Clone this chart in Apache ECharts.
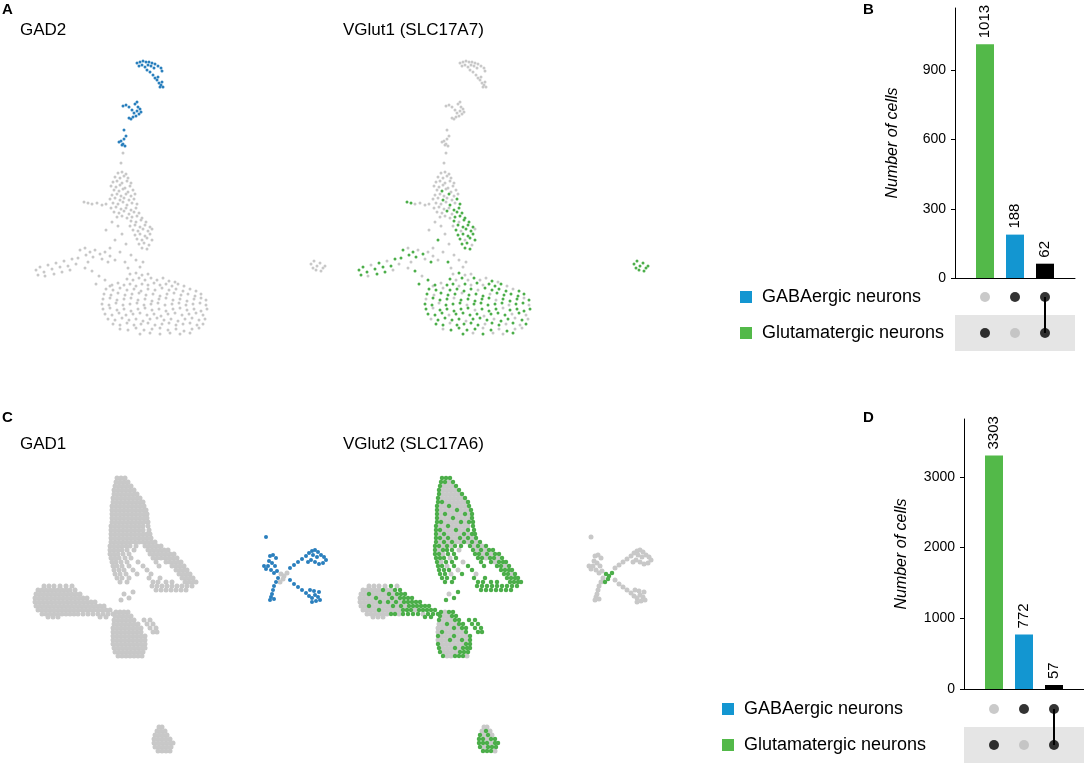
<!DOCTYPE html>
<html>
<head>
<meta charset="utf-8">
<title>GABAergic / glutamatergic markers</title>
<script src="https://cdn.jsdelivr.net/npm/echarts@6/dist/echarts.min.js"></script>
<style>
  html, body { margin: 0; padding: 0; background: #fff; }
  #chart { width: 1084px; height: 768px; }
</style>
</head>
<body>
<div id="chart"></div>
<script>
// embedding coordinates (UMAP units, y grows downward)
// dataset 1: GAD2 / VGlut1
const d1Gad2 = [
  [137,63],[140,62],[143,61],[146,62],[149,62],[152,63],[155,64],[158,66],[161,68],[162,71],
  [139,66],[142,65],[145,67],[148,65],[151,66],[154,68],[147,70],[150,72],[153,75],[155,78],
  [157,80],[159,83],[161,85],[163,87],[160,87],[162,82],[158,77],
  [123,106],[126,105],[129,107],[135,104],[137,102],[138,107],[140,109],[141,112],[139,114],
  [136,116],[133,117],[131,119],[134,113],[137,111],[132,110],[129,118],
  [119,142],[121,141],[123,144],[125,146],[122,145],[124,139],[126,136],[124,130]
]
const d1Vglut1 = [
  [119,191],[126,194],[120,200],[134,199],[127,205],[137,204],[131,210],[136,208],[124,211],[134,212],
  [139,213],[132,217],[137,216],[142,218],
  [131,221],[141,220],[146,222],[135,225],[140,227],[145,225],[150,227],[133,230],[143,229],[148,231],
  [135,235],[140,234],[145,236],[150,234],[137,239],[147,238],[152,240],[139,244],[144,243],[142,248],[147,249],
  [84,202],[88,203],[115,240],[125,262],
  [80,250],[90,252],[100,254],[86,255],[93,257],[108,262],
  [36,270],[40,267],[44,272],[52,269],[56,263],[60,267],[68,266],[72,259],[38,275],[54,274],[62,272],[78,258],
  [92,271],[105,280],[96,284],
  [136,273],[127,279],[139,278],[151,278],[169,281],
  [112,285],[124,285],[130,284],[142,284],[154,283],[166,284],[172,286],[178,284],
  [106,289],[113,290],[127,290],[134,289],[141,291],[148,289],[162,288],[169,290],[176,289],[183,291],[196,291],
  [104,294],[118,293],[125,295],[132,294],[146,295],[153,294],[160,296],[174,293],[181,295],[188,294],[195,296],[201,294],
  [110,298],[117,300],[124,299],[138,300],[145,299],[152,301],[159,299],[166,298],[180,299],[187,301],[194,299],[206,300],
  [102,304],[109,305],[123,305],[130,304],[137,303],[151,304],[158,303],[165,305],[172,304],[179,303],[193,304],[200,303],
  [103,309],[117,310],[124,309],[131,311],[138,309],[145,308],[159,309],[166,311],[173,309],[187,310],[194,309],[201,311],[207,309],
  [105,314],[112,315],[119,313],[133,314],[140,313],[147,315],[154,314],[168,314],[175,313],[182,315],[196,313],
  [115,320],[122,318],[129,320],[136,319],[150,319],[157,318],[164,320],[178,321],[185,319],[199,320],
  [113,324],[120,325],[134,325],[141,324],[148,323],[155,325],[169,323],[176,325],[190,323],[203,324],
  [128,330],[136,328],[144,330],[152,329],[168,330],[184,331],
  [140,334],[160,334],[190,333],
  [311,264],[314,261],[317,266],[320,263],[323,268],[316,270],[321,271],[325,266],[313,268]
]
const d1Other = [
  [118,173],[122,172],[126,174],[115,177],[120,178],[124,176],[128,178],[113,182],[117,181],[122,183],
  [127,181],[131,183],[111,186],[116,187],[120,185],[125,188],[130,186],[114,190],[123,189],[128,192],
  [133,190],[112,195],[117,194],[121,196],[131,196],[135,194],[110,199],[115,198],[124,198],[129,200],
  [113,203],[118,204],[123,202],[132,203],[111,208],[116,207],[121,209],[126,208],[114,212],[119,213],
  [129,214],[117,217],[122,216],[127,218],
  [136,222],[130,226],[138,231],[152,229],[142,240],[149,245],
  [92,204],[97,203],[102,205],[106,204],
  [112,222],[118,226],[106,230],[122,234],[126,244],[110,248],[120,252],[131,255],[136,260],[143,262],[128,268],[140,267],
  [85,248],[95,250],[105,252],[110,256],[102,259],[115,260],
  [48,265],[64,261],[76,264],[45,276],[70,270],
  [85,268],[99,276],[110,286],[88,262],
  [130,274],[142,275],[148,274],[133,280],[145,280],[157,280],[163,278],[175,282],
  [118,283],[136,286],[148,285],[160,285],[184,286],[120,288],[155,290],[190,289],[111,295],[139,293],
  [167,294],[103,299],[131,298],[173,300],[201,298],[116,303],[144,305],[186,305],[206,305],[110,308],
  [152,310],[180,308],[126,315],[161,316],[189,314],[203,315],[108,319],[143,321],[171,319],[192,318],
  [205,319],[127,323],[162,324],[183,324],[197,325],[120,329],[160,328],[176,329],[192,329],[199,328],
  [150,333],[170,333],[180,334],
  [123,153],[121,163]
]

// dataset 2: GAD1 / VGlut2
const d2Gad1 = [
  [266,537],
  [270,556],[273,555],[276,558],[269,561],[272,563],[275,566],[268,566],[271,570],[277,571],[274,573],[264,566],[266,569],
  [290,568],[294,565],[298,562],[302,559],[306,556],[309,553],[312,551],[315,550],[318,552],[321,555],
  [324,557],[326,560],[323,563],[319,564],[315,562],[311,560],[308,562],[313,555],[317,557],
  [290,580],[294,584],[298,587],[302,590],[306,593],[309,596],[312,598],[315,595],[318,597],[320,600],
  [316,601],[312,602],[319,592],[314,591],[310,590],
  [278,578],[276,582],[274,586],[273,590],[272,594],[271,597],[274,599],[270,600]
]
const d2Core = [[281,574],[284,576],[287,573],[283,579],[280,582]]
const d2Vglut2 = [
  [117,478],[121,478],[125,478],[116,482],[120,482],[128,482],[115,486],[131,486],[114,490],[134,490],
  [114,494],[137,494],[113,498],[140,498],[113,502],[117,502],[143,502],[112,506],[124,506],[144,506],
  [112,510],[132,510],[146,510],[112,514],[120,514],[140,514],[147,514],[112,518],[128,518],[147,518],
  [112,522],[116,522],[136,522],[144,522],[148,522],[111,526],[123,526],[148,526],
  [111,530],[115,530],[131,530],[143,530],[149,530],[111,534],[119,534],[139,534],[147,534],[150,534],
  [111,538],[115,538],[123,538],[135,538],[143,538],[151,538],[111,542],[119,542],[127,542],[139,542],[147,542],[155,542],
  [110,546],[114,546],[122,546],[130,546],[136,546],[145,546],[153,546],[161,546],
  [110,550],[118,550],[122,550],[127,550],[148,550],[156,550],[164,550],[168,550],
  [110,554],[114,554],[123,554],[129,554],[150,554],[154,554],[162,554],[170,554],[174,554],
  [111,558],[115,558],[119,558],[131,558],[153,558],[157,558],[165,558],[169,558],[177,558],
  [112,562],[121,562],[127,562],[156,562],[166,562],[174,562],[178,562],[181,562],
  [113,566],[117,566],[129,566],[143,566],[159,566],[172,566],[176,566],[184,566],
  [114,570],[119,570],[124,570],[147,570],[176,570],[180,570],[184,570],[187,570],
  [115,574],[120,574],[137,574],[179,574],[183,574],[190,574],
  [117,578],[122,578],[129,578],[149,578],[160,578],[182,578],[186,578],[190,578],[193,578],
  [120,582],[127,582],[153,582],[158,582],[166,582],[172,582],[185,582],[189,582],[193,582],[196,582],
  [152,586],[157,586],[162,586],[167,586],[172,586],[177,586],[182,586],[187,586],[192,586],
  [156,590],[161,590],[166,590],[171,590],[176,590],[181,590],[186,590],
  [129,598],[121,600],[133,592],
  [66,586],[58,590],[70,590],[75,590],[44,594],[64,594],[72,594],[76,594],[80,594],
  [51,598],[67,598],[75,598],[79,598],[83,598],[87,598],
  [55,602],[63,602],[71,602],[79,602],[83,602],[87,602],[91,602],[95,602],
  [44,606],[68,606],[76,606],[84,606],[88,606],[92,606],[96,606],[100,606],[104,606],
  [54,610],[78,610],[82,610],[86,610],[94,610],[98,610],[102,610],[106,610],[110,610],
  [66,614],[70,614],[78,614],[83,614],[88,614],[93,614],[103,614],[108,614],[113,614],
  [100,617],[106,617],
  [116,612],[124,612],[128,612],[115,616],[127,616],[131,616],
  [114,620],[130,620],[134,620],[144,620],[150,620],[122,624],[134,624],[138,624],[147,624],[153,624],
  [129,628],[137,628],[141,628],[150,628],[156,628],[117,632],[141,632],[153,632],[157,632],
  [113,636],[129,636],[145,636],[125,640],[137,640],[145,640],[113,644],[141,644],[145,644],
  [114,648],[130,648],[138,648],[142,648],[145,648],[115,652],[135,652],[139,652],[143,652],
  [118,656],[130,656],[134,656],[138,656],
  [161,731],[155,735],[163,735],[154,739],[158,739],[166,739],[170,739],[154,743],[158,743],[162,743],
  [170,743],[173,743],[155,747],[163,747],[167,747],[171,747],[158,751],[162,751],[166,751]
]
const d2Other = [
  [124,482],[119,486],[123,486],[127,486],[118,490],[122,490],[126,490],[130,490],
  [118,494],[122,494],[126,494],[130,494],[134,494],[117,498],[121,498],[125,498],[129,498],[133,498],[137,498],
  [121,502],[125,502],[129,502],[133,502],[137,502],[141,502],[116,506],[120,506],[128,506],[132,506],[136,506],[140,506],
  [116,510],[120,510],[124,510],[128,510],[136,510],[140,510],[144,510],
  [116,514],[124,514],[128,514],[132,514],[136,514],[144,514],
  [116,518],[120,518],[124,518],[132,518],[136,518],[140,518],[144,518],
  [120,522],[124,522],[128,522],[132,522],[140,522],
  [115,526],[119,526],[127,526],[131,526],[135,526],[139,526],[143,526],
  [119,530],[123,530],[127,530],[135,530],[139,530],
  [115,534],[123,534],[127,534],[131,534],[135,534],[143,534],
  [119,538],[127,538],[131,538],[139,538],[147,538],
  [115,542],[123,542],[131,542],[135,542],[143,542],[151,542],
  [118,546],[126,546],[149,546],[157,546],[114,550],[134,550],[152,550],[160,550],
  [118,554],[158,554],[166,554],[125,558],[161,558],[173,558],[116,562],[138,562],[170,562],
  [122,566],[180,566],[133,570],[126,574],[151,574],[187,574],[124,594],
  [44,586],[49,586],[54,586],[60,586],[72,586],
  [38,590],[42,590],[46,590],[50,590],[54,590],[62,590],[66,590],
  [36,594],[40,594],[48,594],[52,594],[56,594],[60,594],[68,594],
  [35,598],[39,598],[43,598],[47,598],[55,598],[59,598],[63,598],[71,598],
  [35,602],[39,602],[43,602],[47,602],[51,602],[59,602],[67,602],[75,602],
  [36,606],[40,606],[48,606],[52,606],[56,606],[60,606],[64,606],[72,606],[80,606],
  [38,610],[42,610],[46,610],[50,610],[58,610],[62,610],[66,610],[70,610],[74,610],[90,610],
  [42,614],[46,614],[50,614],[54,614],[58,614],[62,614],[74,614],[98,614],
  [48,617],[53,617],[58,617],
  [120,612],[119,616],[123,616],[118,620],[122,620],[126,620],[114,624],[118,624],[126,624],[130,624],
  [113,628],[117,628],[121,628],[125,628],[133,628],
  [113,632],[121,632],[125,632],[129,632],[133,632],[137,632],
  [117,636],[121,636],[125,636],[133,636],[137,636],[141,636],
  [113,640],[117,640],[121,640],[129,640],[133,640],[141,640],
  [117,644],[121,644],[125,644],[129,644],[133,644],[137,644],
  [118,648],[122,648],[126,648],[134,648],[119,652],[123,652],[127,652],[131,652],
  [122,656],[126,656],[142,656],
  [159,727],[162,727],[157,731],[165,731],[159,735],[167,735],[162,739],[166,743],[159,747],[170,751]
]

// upset plots
const setNames = ['GABAergic neurons', 'Glutamatergic neurons']
const intersections = [
  ['Glutamatergic neurons'],
  ['GABAergic neurons'],
  ['GABAergic neurons', 'Glutamatergic neurons'],
]
const countsB = [1013, 188, 62]
const countsD = [3303, 772, 57]
const ticksB = [0, 300, 600, 900]
const ticksD = [0, 1000, 2000, 3000]

const FONT = '"Liberation Sans", Arial, Helvetica, sans-serif'
const GRAY = '#c8c8c8'
const BLUE = '#1396d1'
const GREEN = '#53b949'
const DOT_BLUE = '#2a7fbd'
const DOT_GREEN = '#4cae4a'
const barColors = [GREEN, BLUE, '#000000']

const chart = echarts.init(document.getElementById('chart'))

const hiddenAxis = (min, max, inverse) => ({
  type: 'value', min, max, inverse: !!inverse, show: false,
  splitLine: { show: false },
})

const scatter = (gi, data, color, size, z) => ({
  type: 'scatter', xAxisIndex: gi, yAxisIndex: gi, data,
  symbolSize: size, itemStyle: { color, opacity: 1 }, z, silent: true,
})

function barAxes(max, ticks) {
  return {
    x: {
      type: 'value', min: 0, max: 4,
      axisLine: { show: true, onZero: false, lineStyle: { color: '#000', width: 1 } },
      axisTick: { show: false }, axisLabel: { show: false }, splitLine: { show: false },
    },
    y: {
      type: 'value', min: 0, max,
      axisLine: { show: true, lineStyle: { color: '#000', width: 1 } },
      axisTick: { show: true, length: 4, customValues: ticks, lineStyle: { color: '#000' } },
      axisLabel: {
        customValues: ticks, formatter: (v) => String(v),
        fontSize: 14, color: '#000', fontFamily: FONT, margin: 9,
      },
      splitLine: { show: false },
      name: 'Number of cells', nameLocation: 'middle', nameGap: 54,
      nameTextStyle: { fontStyle: 'italic', fontSize: 16, color: '#000', fontFamily: FONT },
    },
  }
}

function matrixAxes(labelMargin) {
  return {
    x: { type: 'value', min: 0, max: 4, show: false, splitLine: { show: false } },
    y: {
      type: 'category', data: setNames, inverse: true,
      axisLine: { show: false }, axisTick: { show: false },
      splitArea: { show: true, areaStyle: { color: ['rgba(0,0,0,0)', '#e5e5e5'] } },
      axisLabel: {
        align: 'left', margin: labelMargin,
        formatter: (name) => `{${name === setNames[0] ? 'gaba' : 'glut'}|}{gap|}{txt|${name}}`,
        rich: {
          gaba: { width: 12, height: 12, backgroundColor: BLUE },
          glut: { width: 12, height: 12, backgroundColor: GREEN },
          gap: { width: 10 },
          txt: { fontSize: 18, color: '#000', fontFamily: FONT },
        },
      },
    },
  }
}

function upsetSeries(barIdx, matIdx, counts) {
  const bars = {
    type: 'bar', xAxisIndex: barIdx, yAxisIndex: barIdx, barWidth: 18,
    data: counts.map((v, i) => ({ value: [i + 1, v], itemStyle: { color: barColors[i] } })),
    label: {
      show: true, position: 'top', rotate: 90, align: 'left', verticalAlign: 'middle',
      distance: 6, fontSize: 15, color: '#000', fontFamily: FONT,
    },
    silent: true,
  }
  const dots = {
    type: 'scatter', xAxisIndex: matIdx, yAxisIndex: matIdx, symbolSize: 10, z: 3, silent: true,
    data: intersections.flatMap((members, i) => setNames.map(s => ({
      value: [i + 1, s],
      itemStyle: { color: members.includes(s) ? '#000' : '#bdbdbd' },
    }))),
  }
  const links = intersections
    .map((members, i) => ({ members, i }))
    .filter(d => d.members.length > 1)
    .map(d => ({
      type: 'line', xAxisIndex: matIdx, yAxisIndex: matIdx, symbol: 'none', z: 2, silent: true,
      lineStyle: { color: '#000', width: 2 },
      data: d.members.map(s => [d.i + 1, s]),
    }))
  return [bars, dots, ...links]
}

const bB = barAxes(1170, ticksB)
const mB = matrixAxes(215)
const bD = barAxes(3820, ticksD)
const mD = matrixAxes(242)

const letter = (text, left, top) => ({
  text, left, top, padding: 0,
  textStyle: { fontSize: 15, fontWeight: 'bold', color: '#000', fontFamily: FONT },
})
const heading = (text, left, top) => ({
  text, left, top, padding: 0,
  textStyle: { fontSize: 17, fontWeight: 'normal', color: '#000', fontFamily: FONT },
})

chart.setOption({
  animation: false,
  backgroundColor: '#fff',
  textStyle: { fontFamily: FONT },
  title: [
    letter('A', 2, 2), letter('B', 863, 2), letter('C', 2, 410), letter('D', 863, 410),
    heading('GAD2', 20, 22), heading('VGlut1 (SLC17A7)', 343, 22),
    heading('GAD1', 20, 436), heading('VGlut2 (SLC17A6)', 343, 436),
  ],
  grid: [
    { left: 30, top: 55, width: 300, height: 285 },
    { left: 353, top: 55, width: 300, height: 285 },
    { left: 30, top: 465, width: 300, height: 300 },
    { left: 355, top: 465, width: 300, height: 300 },
    { left: 955, top: 8, width: 120, height: 270 },
    { left: 955, top: 279, width: 120, height: 72 },
    { left: 964, top: 419, width: 120, height: 270 },
    { left: 964, top: 691, width: 120, height: 72 },
  ],
  xAxis: [
    { ...hiddenAxis(30, 330), gridIndex: 0 },
    { ...hiddenAxis(30, 330), gridIndex: 1 },
    { ...hiddenAxis(30, 330), gridIndex: 2 },
    { ...hiddenAxis(30, 330), gridIndex: 3 },
    { ...bB.x, gridIndex: 4 },
    { ...mB.x, gridIndex: 5 },
    { ...bD.x, gridIndex: 6 },
    { ...mD.x, gridIndex: 7 },
  ],
  yAxis: [
    { ...hiddenAxis(55, 340, true), gridIndex: 0 },
    { ...hiddenAxis(55, 340, true), gridIndex: 1 },
    { ...hiddenAxis(465, 765, true), gridIndex: 2 },
    { ...hiddenAxis(465, 765, true), gridIndex: 3 },
    { ...bB.y, gridIndex: 4 },
    { ...mB.y, gridIndex: 5 },
    { ...bD.y, gridIndex: 6 },
    { ...mD.y, gridIndex: 7 },
  ],
  series: [
    // A: GAD2
    scatter(0, [...d1Other, ...d1Vglut1], GRAY, 3, 2),
    scatter(0, d1Gad2, DOT_BLUE, 3, 3),
    // A: VGlut1
    scatter(1, [...d1Other, ...d1Gad2], GRAY, 3, 2),
    scatter(1, d1Vglut1, DOT_GREEN, 3, 3),
    // C: GAD1
    scatter(2, [...d2Other, ...d2Vglut2, ...d2Core], GRAY, 5, 2),
    scatter(2, d2Gad1, DOT_BLUE, 4, 3),
    // C: VGlut2
    scatter(3, [...d2Other, ...d2Gad1], GRAY, 5, 2),
    scatter(3, [...d2Vglut2, ...d2Core], DOT_GREEN, 4.5, 3),
    // B, D
    ...upsetSeries(4, 5, countsB),
    ...upsetSeries(6, 7, countsD),
  ],
})

window.addEventListener('resize', () => chart.resize())
</script>
</body>
</html>
